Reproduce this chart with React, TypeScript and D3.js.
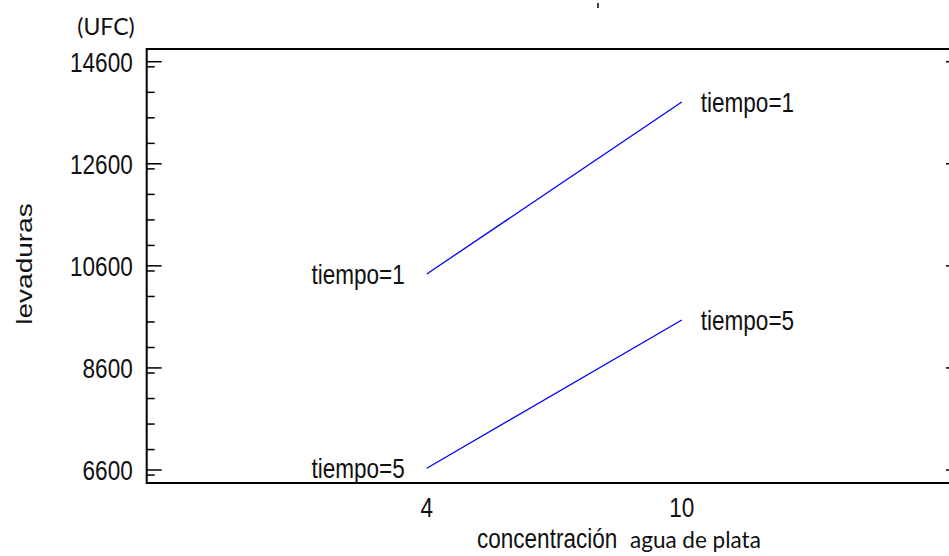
import { scaleLinear, line, range } from 'd3'

// interaction plot: levaduras vs concentración, one line per tiempo
const concentracion = [4, 10]
const tiempo1 = [10440, 13810]
const tiempo5 = [6634, 9540]
const seriesNames = ['tiempo=1', 'tiempo=5']
const xTicks = [4, 10]
const yTicks = [6600, 8600, 10600, 12600, 14600]

const W = 949
const H = 556
const left = 146.7
const right = 961
const top = 49
const bottom = 483

const sans = '"Liberation Sans", Arial, sans-serif'
const calib = 'Lato, "Open Sans", sans-serif'
const squeeze = 0.82

// narrow looking text: regular sans squeezed horizontally
function NText({ x, y, anchor = 'start', dy, children }: any) {
  return (
    <text
      transform={`translate(${x},${y}) scale(${squeeze},1)`}
      dy={dy}
      textAnchor={anchor}
      fontFamily={sans}
      fontSize={27.5}
      fill='#111'
    >
      {children}
    </text>
  )
}

export default function App() {
  const x = scaleLinear().domain([-2.59, 16.57]).range([left, right])
  const y = scaleLinear().domain([6345, 14849]).range([bottom, top])

  const minor = range(6500, 14850, 500).filter(v => !yTicks.includes(v))
  const series = [tiempo1, tiempo5]
  const path = line<number>()
    .x((_, i) => x(concentracion[i]))
    .y(d => d)

  return (
    <svg
      width={W}
      height={H}
      style={{ position: 'absolute', left: 0, top: 0, background: '#fff' }}
    >
      {/* frame */}
      <rect
        x={left}
        y={top}
        width={right - left}
        height={bottom - top}
        fill='none'
        stroke='#000'
        strokeWidth={2}
      />
      <line x1={598} x2={598} y1={3} y2={8} stroke='#000' strokeWidth={1.5} />

      {/* y ticks, both sides */}
      {yTicks.map(t => (
        <g key={t}>
          <line x1={left} x2={left + 15} y1={y(t)} y2={y(t)} stroke='#000' strokeWidth={1.5} />
          <line x1={right} x2={right - 15} y1={y(t)} y2={y(t)} stroke='#000' strokeWidth={1.5} />
          <NText x={left - 14} y={y(t)} dy='0.36em' anchor='end'>
            {t}
          </NText>
        </g>
      ))}
      {minor.map(t => (
        <g key={'m' + t}>
          <line x1={left} x2={left + 8} y1={y(t)} y2={y(t)} stroke='#000' strokeWidth={1.5} />
          <line x1={right} x2={right - 8} y1={y(t)} y2={y(t)} stroke='#000' strokeWidth={1.5} />
        </g>
      ))}

      {/* x tick labels */}
      {xTicks.map(t => (
        <NText key={t} x={x(t)} y={517} anchor='middle'>
          {t}
        </NText>
      ))}

      {/* lines + labels */}
      {series.map((s, k) => {
        const pts = s.map(v => y(v))
        const n = s.length - 1
        return (
          <g key={k}>
            <path d={path(pts) ?? ''} fill='none' stroke='#0000ff' strokeWidth={1.3} />
            <NText x={x(concentracion[0]) - 22} y={pts[0] + 10} anchor='end'>
              {seriesNames[k]}
            </NText>
            <NText x={x(concentracion[n]) + 19} y={pts[n] + 10}>
              {seriesNames[k]}
            </NText>
          </g>
        )
      })}

      {/* axis titles */}
      <text x={106} y={35} textAnchor='middle' fontFamily={calib} fontSize={23} fill='#111'>
        (UFC)
      </text>
      <text
        transform={`translate(32,264) scale(${squeeze},1) rotate(-90)`}
        textAnchor='middle'
        fontFamily={sans}
        fontSize={28}
        fill='#111'
      >
        levaduras
      </text>
      <NText x={477} y={548}>concentración</NText>
      <text x={630} y={548} fontFamily={calib} fontSize={22.5} fill='#111'>
        agua de plata
      </text>
    </svg>
  )
}
